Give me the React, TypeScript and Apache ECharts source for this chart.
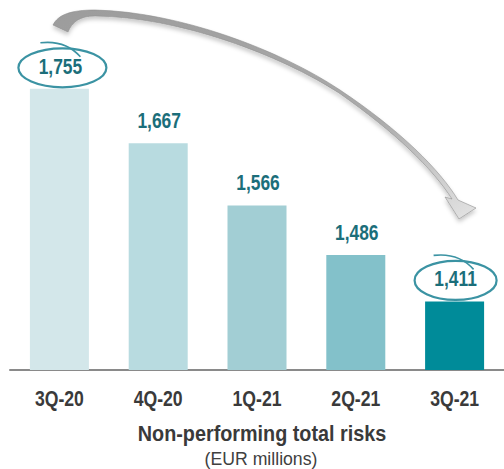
import React, { useEffect, useRef } from "react";
import * as echarts from "echarts";

const categories = ["3Q-20", "4Q-20", "1Q-21", "2Q-21", "3Q-21"];
const values = [1755, 1667, 1566, 1486, 1411];
const barColors = ["#d3e7ea", "#b8dbe0", "#a2ced4", "#83c1ca", "#008b99"];
const circled = [0, 4];
const titleText = "Non-performing total risks";
const subtitleText = "(EUR millions)";

const FONT = "'Liberation Sans', Arial, sans-serif";

const ARROW_D =
  "M53 25 C58 15 70 10 95 10 C180 12 280 50 340 90 C400 130 440 170 458 200 L476 208 L459 219 L445 197 L452 199 C432 168 396 133 339 93 C280 55 180 17 95 16 C80 16 72 22 68 32 Z";

let registered = false;
function registerShapes() {
  if (registered) return;
  registered = true;
  echarts.graphic.registerShape("bigArrow", echarts.graphic.extendPath(ARROW_D, {}) as any);
}

function fmt(v: number): string {
  const s = String(v);
  return s.length > 3 ? s.slice(0, s.length - 3) + "," + s.slice(s.length - 3) : s;
}

export default function App() {
  const ref = useRef<HTMLDivElement>(null);
  useEffect(() => {
    if (!ref.current) return;
    registerShapes();
    const chart = echarts.init(ref.current, null, { renderer: "svg" });
    chart.setOption({
      animation: false,
      grid: { left: 10, right: -9.5, top: 61, bottom: 99, containLabel: false },
      xAxis: {
        type: "category",
        data: categories,
        axisLine: { lineStyle: { color: "#8a8a8a", width: 2 } },
        axisTick: { show: false },
        axisLabel: { show: false },
      },
      yAxis: { type: "value", min: 1300, max: 1800, show: false },
      series: [
        {
          type: "bar",
          barWidth: 59,
          data: values.map((v, i) => ({ value: v, itemStyle: { color: barColors[i] } })),
          label: { show: false },
        },
      ],
    });

    const graphics: any[] = [];

    categories.forEach((cat, idx) => {
      const top = chart.convertToPixel({ seriesIndex: 0 }, [cat, values[idx]]) as number[];
      const base = chart.convertToPixel({ seriesIndex: 0 }, [cat, 1300]) as number[];
      graphics.push({
        type: "text",
        x: top[0] + 1,
        y: top[1] - 23,
        scaleX: 0.79,
        z: 15,
        style: {
          text: fmt(values[idx]),
          fontSize: 22,
          fontWeight: "bold",
          fill: "#1b6e7a",
          fontFamily: FONT,
          align: "center",
          verticalAlign: "middle",
        },
      });
      graphics.push({
        type: "text",
        x: base[0],
        y: base[1] + 28,
        scaleX: 0.8,
        style: {
          text: cat,
          fontSize: 22,
          fontWeight: "bold",
          fill: "#3a3a3a",
          fontFamily: FONT,
          align: "center",
          verticalAlign: "middle",
        },
      });
    });

    circled.forEach((idx) => {
      const pt = chart.convertToPixel({ seriesIndex: 0 }, [categories[idx], values[idx]]) as number[];
      const cx = pt[0] + (idx === 0 ? 3 : 1);
      const cy = pt[1] - 21;
      const rx = idx === 0 ? 44 : 41;
      const ry = 19.5;
      graphics.push({
        type: "ellipse",
        shape: { cx, cy, rx, ry },
        style: { fill: "none", stroke: "#3b93a3", lineWidth: 2.2 },
        z: 10,
      });
      graphics.push({
        type: "bezierCurve",
        shape: {
          x1: cx - 22,
          y1: cy - 25,
          cpx1: cx + 3,
          cpy1: cy - 28,
          x2: cx + 18,
          y2: cy - 11,
        },
        style: { fill: "none", stroke: "#3b93a3", lineWidth: 1.6 },
        z: 10,
      });
    });

    graphics.push({
      type: "bigArrow",
      x: 0,
      y: 0,
      style: {
        fill: {
          type: "linear",
          x: 0,
          y: 0,
          x2: 1,
          y2: 1,
          colorStops: [
            { offset: 0, color: "#9c9c9c" },
            { offset: 0.65, color: "#ababab" },
            { offset: 1, color: "#e4e4e4" },
          ],
        },
        stroke: "#8e8e8e",
        lineWidth: 0.6,
        shadowBlur: 4,
        shadowColor: "rgba(0,0,0,0.22)",
        shadowOffsetY: 3,
      },
      z: 20,
    });

    graphics.push({
      type: "text",
      x: 262,
      y: 433,
      scaleX: 0.9,
      style: {
        text: titleText,
        fontSize: 22,
        fontWeight: "bold",
        fill: "#3a3a3a",
        fontFamily: FONT,
        align: "center",
        verticalAlign: "middle",
      },
    });
    graphics.push({
      type: "text",
      x: 261,
      y: 458,
      scaleX: 0.93,
      style: {
        text: subtitleText,
        fontSize: 19,
        fill: "#404040",
        fontFamily: FONT,
        align: "center",
        verticalAlign: "middle",
      },
    });

    chart.setOption({ graphic: graphics });
    return () => chart.dispose();
  }, []);
  return (
    <div
      ref={ref}
      style={{ position: "absolute", left: 0, top: 0, width: 504, height: 469, overflow: "hidden" }}
    />
  );
}
